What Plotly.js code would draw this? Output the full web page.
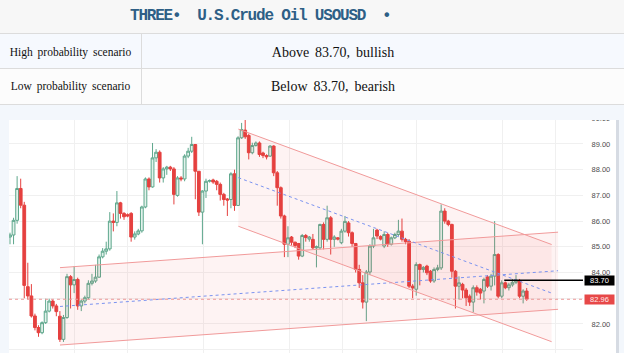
<!DOCTYPE html>
<html><head><meta charset="utf-8">
<script src="https://cdn.plot.ly/plotly-3.0.1.min.js"></script>
<style>
body{margin:0;width:624px;height:353px;overflow:hidden;position:relative;background:#f3f7fc;font-family:"Liberation Serif",serif;}
.abs{position:absolute;}
</style></head><body>
<div class="abs" style="left:0;top:0;width:624px;height:33px;background:#f7f7f7;"></div>
<div class="abs" id="ttl" style="left:130px;top:0;height:33px;line-height:33px;font-family:'Liberation Mono',monospace;font-weight:bold;font-size:16px;letter-spacing:-1.2px;color:#2e5f86;white-space:pre;"></div>
<div class="abs" style="left:0;top:33px;width:624px;height:35px;background:#f6f9fe;border-top:1px solid #dcdcdc;"></div>
<div class="abs" style="left:0;top:68px;width:624px;height:35px;background:#fcfcfc;border-top:1px solid #dcdcdc;border-bottom:1px solid #dcdcdc;"></div>
<div class="abs" style="left:141px;top:33px;width:1px;height:71px;background:#dcdcdc;"></div>
<div class="abs" id="r1a" style="left:0;top:35px;width:141px;height:35px;line-height:35px;text-align:center;font-size:11.5px;word-spacing:2px;color:#111;"></div>
<div class="abs" id="r1b" style="left:141px;top:35px;width:384px;height:35px;line-height:35px;text-align:center;font-size:14px;word-spacing:2.5px;color:#111;"></div>
<div class="abs" id="r2a" style="left:0;top:69px;width:141px;height:35px;line-height:35px;text-align:center;font-size:11.5px;word-spacing:2px;color:#111;"></div>
<div class="abs" id="r2b" style="left:141px;top:69px;width:384px;height:35px;line-height:35px;text-align:center;font-size:14px;word-spacing:2.5px;color:#111;"></div>
<div class="abs" style="left:9px;top:120px;width:608px;height:233px;background:#ffffff;"></div>
<div class="abs" style="left:616px;top:120px;width:3px;height:233px;background:#d6dbe3;"></div>
<div class="abs" id="chart" style="left:9px;top:110px;width:607px;height:243px;z-index:1;"></div>
<div class="abs" style="left:0;top:105px;width:624px;height:15px;background:#f3f7fc;z-index:2;"></div>
<script>
// ---- text ----
const titleText = "THREE\u2022  U.S.Crude Oil USOUSD  \u2022";
const scenarioNames = ["High probability scenario", "Low probability scenario"];
const scenarioTexts = ["Above 83.70, bullish", "Below 83.70, bearish"];

// ---- candles (OHLC) ----
const open = [85.38,85.46,86.03,87.27,86.62,83.45,83.09,82.31,81.86,81.66,82.05,82.5,82.89,82.7,82.3,81.4,82.25,83.84,83.52,83.73,
82.7,82.89,83.02,83.58,83.67,83.82,84.61,84.83,84.92,86.0,85.95,86.71,86.3,86.25,86.3,85.38,85.5,85.62,86.55,87.64,
87.33,88.46,88.68,87.68,88.03,88.1,88.03,87.0,87.68,87.64,88.53,88.72,88.98,87.94,86.35,87.17,87.55,87.6,87.55,87.43,
87.04,86.86,86.84,87.84,86.61,89.24,89.54,89.33,88.66,88.94,89.04,88.65,88.55,88.53,88.92,87.88,87.3,86.2,85.1,85.38,
85.18,85.13,84.64,85.44,85.3,85.29,84.96,84.96,85.87,85.29,86.13,85.29,85.35,85.16,85.61,85.93,85.55,85.13,84.12,83.6,
82.85,84.02,85.03,85.65,85.4,85.03,85.48,85.1,85.35,85.48,85.61,85.29,85.22,83.47,83.35,84.31,84.12,84.25,84.05,83.67,
84.12,84.18,86.39,86.0,85.87,84.05,83.47,83.54,83.32,83.08,82.85,83.41,83.35,83.28,83.83,83.47,83.86,84.7,83.08,83.6,
83.41,83.52,83.62,83.67,83.08,83.28];
const high = [85.55,86.13,87.75,87.65,86.75,84.38,83.55,82.4,81.95,82.1,82.98,82.98,82.95,82.78,82.5,82.35,83.95,83.9,84.25,83.8,
82.95,83.1,83.7,83.95,84.3,84.7,84.95,85.2,86.35,86.3,87.17,86.75,86.35,86.3,86.35,85.6,85.7,86.6,87.7,87.7,
89.04,88.8,88.75,88.1,88.15,88.15,88.1,87.75,87.75,88.6,88.85,89.28,89.0,87.95,87.2,87.65,87.62,87.65,87.6,87.5,
87.1,86.9,87.9,88.0,89.3,89.82,89.95,89.4,89.05,89.1,89.1,88.7,88.6,88.95,88.95,87.95,87.35,86.25,85.8,85.42,
85.2,85.15,85.5,85.5,85.42,85.5,85.05,85.9,85.95,86.6,86.2,85.45,85.38,85.7,86.2,86.0,85.6,85.15,84.3,83.9,
84.1,85.1,85.7,85.7,85.45,85.6,85.55,85.4,85.55,86.05,86.1,85.35,85.3,83.55,84.4,84.35,84.25,84.3,84.1,84.2,
84.3,86.65,86.5,86.05,85.9,84.1,83.85,83.6,83.4,83.15,83.5,83.5,83.4,83.8,83.9,83.95,86.0,84.75,83.7,83.65,
83.6,83.75,83.9,83.75,83.35,83.4];
const low = [85.1,85.1,85.9,86.5,83.0,82.95,82.25,81.75,81.5,81.6,82.0,82.45,82.6,82.3,81.3,81.3,82.2,82.6,83.2,82.55,
82.5,82.8,82.95,83.5,83.6,83.8,84.55,84.7,84.85,85.6,85.8,86.1,86.05,86.15,85.2,85.28,85.45,85.55,86.5,87.2,
87.3,88.3,87.5,87.5,87.8,87.95,86.65,86.95,87.55,87.55,88.45,88.65,86.85,86.2,85.1,86.9,87.5,87.45,87.2,86.8,
86.6,86.2,86.5,86.4,86.6,89.2,89.2,88.4,88.6,88.9,88.5,88.45,88.4,88.5,87.75,86.6,86.1,84.6,84.6,85.05,
84.95,84.5,84.6,85.2,85.2,84.9,84.2,84.9,84.9,85.2,84.7,85.0,85.25,85.1,85.55,85.4,85.0,84.0,83.4,82.6,
82.11,83.9,84.95,85.3,85.25,84.95,85.0,85.05,85.3,85.4,85.2,85.1,83.4,83.0,83.1,83.5,84.0,83.9,83.6,83.6,
84.05,84.1,85.9,85.8,83.8,82.6,82.95,83.0,82.7,82.7,82.45,83.1,82.95,82.8,83.4,83.3,83.5,83.0,83.0,83.35,
83.3,83.45,83.55,83.0,82.8,82.9];
const close = [85.46,86.03,87.27,86.62,83.5,83.09,82.31,81.86,81.66,82.05,82.5,82.89,82.7,82.48,81.4,82.25,83.84,83.52,83.73,82.7,
82.89,83.02,83.58,83.67,83.82,84.61,84.83,84.92,86.0,85.95,86.71,86.3,86.17,86.2,85.38,85.5,85.62,86.55,87.64,87.33,
88.46,88.68,87.68,88.03,88.1,88.03,87.04,87.68,87.64,88.53,88.72,88.98,87.94,86.35,87.17,87.55,87.58,87.52,87.43,87.04,
86.84,86.82,87.84,86.61,89.24,89.56,89.28,88.66,88.94,89.04,88.59,88.55,88.5,88.92,87.88,87.3,86.2,85.1,85.35,85.18,
85.05,84.64,85.44,85.36,85.38,84.96,85.0,85.87,85.29,86.13,85.29,85.38,85.3,85.61,85.99,85.55,85.13,84.12,83.6,82.85,
84.02,85.03,85.35,85.42,85.3,85.48,85.1,85.35,85.48,85.61,85.29,85.2,83.47,83.4,84.31,84.12,84.2,83.99,83.67,84.12,
84.18,86.39,86.0,85.87,84.05,83.47,83.6,83.32,83.02,82.85,83.41,83.24,83.2,83.73,83.47,83.86,84.7,83.08,83.6,83.41,
83.52,83.62,83.7,83.08,83.28,82.96];

// ---- channels (end points, in candle index / price) ----
const ascX = [14.03, 153.8];
const ascUpper = [84.19, 85.57];
const ascMid = [82.68, 84.07];
const ascLower = [81.18, 82.57];
const descX = [64.08, 152.0];
const descUpper = [89.58, 85.09];
const descMid = [87.69, 83.20];
const descLower = [85.80, 81.31];

// ---- levels ----
const lastPrice = [82.96];
const signalLevel = [83.70];
const signalStart = [138.7];

// ---- axes ----
const priceTicks = [81, 82, 83, 84, 85, 86, 87, 88, 89, 90];
const timeGrid = [18.2, 33.1, 54.2, 78.3, 93.2, 114.2, 138.1, 153.2];
const xRange = [-0.28, 160.8];
const yRange = [80.87, 90.05];

document.getElementById('ttl').textContent = titleText;
document.getElementById('r1a').textContent = scenarioNames[0];
document.getElementById('r2a').textContent = scenarioNames[1];
document.getElementById('r1b').textContent = scenarioTexts[0];
document.getElementById('r2b').textContent = scenarioTexts[1];

const xs = open.map((_, i) => i);
const fillCol = 'rgba(240,70,70,0.065)';
const edgeCol = '#f19a9a';
const midCol = '#7b93f0';

function band(x, up, lo) {
  return {type:'scatter', mode:'lines', x:[x[0], x[1], x[1], x[0], x[0]], y:[up[0], up[1], lo[1], lo[0], up[0]],
    fill:'toself', fillcolor:fillCol, line:{width:0}, hoverinfo:'skip', showlegend:false};
}
function ln(x, y, color, dash, w) {
  return {type:'scatter', mode:'lines', x:x, y:y, line:{color:color, width:w||1, dash:dash||'solid'}, hoverinfo:'skip', showlegend:false};
}

const traces = [
  band(ascX, ascUpper, ascLower),
  band(descX, descUpper, descLower),
  {type:'candlestick', x:xs, open:open, high:high, low:low, close:close, whiskerwidth:0,
   increasing:{line:{color:'#5da78c', width:1}, fillcolor:'#e2f2eb'},
   decreasing:{line:{color:'#e5403f', width:1}, fillcolor:'#e5403f'},
   showlegend:false, hoverinfo:'skip'},
  ln(ascX, ascUpper, edgeCol), ln(ascX, ascLower, edgeCol), ln(ascX, ascMid, midCol, '3px,3px'),
  ln(descX, descUpper, edgeCol), ln(descX, descLower, edgeCol), ln(descX, descMid, midCol, '3px,3px')
];

const layout = {
  width:607, height:243,
  margin:{l:0, r:33, t:7, b:0},
  paper_bgcolor:'rgba(0,0,0,0)', plot_bgcolor:'#ffffff',
  boxgap:0.22, boxgroupgap:0,
  showlegend:false,
  xaxis:{range:xRange, tickvals:timeGrid, showticklabels:false, showgrid:true, gridcolor:'#f0f0f0', gridwidth:1,
         zeroline:false, showline:false, ticks:'', rangeslider:{visible:false}, fixedrange:true},
  yaxis:{range:yRange, side:'right', tickvals:priceTicks, ticktext:priceTicks.map(v => v.toFixed(2)),
         showgrid:true, gridcolor:'#f0f0f0', zeroline:false, showline:false, ticks:'outside', ticklen:6,
         tickcolor:'rgba(0,0,0,0)', tickfont:{family:'Liberation Sans, Arial, sans-serif', size:7.5, color:'#4d4d4d'}, fixedrange:true},
  shapes:[
    {type:'line', xref:'paper', x0:0, x1:1, yref:'y', y0:lastPrice[0], y1:lastPrice[0], line:{color:'#ec9a9a', width:1, dash:'dot'}},
    {type:'line', xref:'x', x0:signalStart[0], x1:xRange[1], yref:'y', y0:signalLevel[0], y1:signalLevel[0], line:{color:'#000000', width:1.6}}
  ],
  annotations:[
    {xref:'paper', x:1, xanchor:'left', xshift:1, yref:'y', y:signalLevel[0], yanchor:'middle', text:signalLevel[0].toFixed(2), showarrow:false,
     bgcolor:'#000000', font:{family:'Liberation Sans, Arial, sans-serif', size:7.5, color:'#ffffff'}, width:29, height:9, borderpad:0, align:'center'},
    {xref:'paper', x:1, xanchor:'left', xshift:1, yref:'y', y:lastPrice[0], yanchor:'middle', text:lastPrice[0].toFixed(2), showarrow:false,
     bgcolor:'#e74848', font:{family:'Liberation Sans, Arial, sans-serif', size:7.5, color:'#ffe9e9'}, width:29, height:9, borderpad:0, align:'center'}
  ]
};

Plotly.newPlot('chart', traces, layout, {staticPlot:true, displayModeBar:false});
</script>
</body></html>
